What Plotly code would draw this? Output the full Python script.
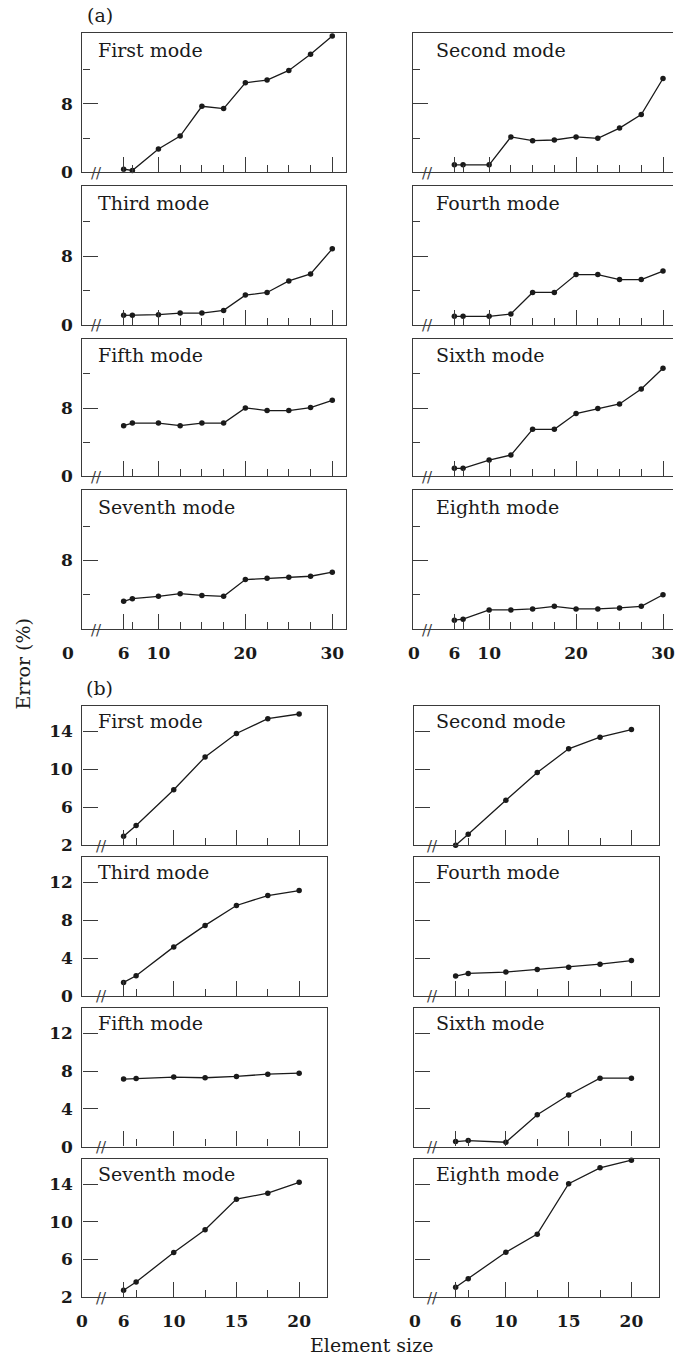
import plotly.graph_objects as go

W, H = 675, 1369

# ---------------- data ----------------
mode_names = ["First mode", "Second mode", "Third mode", "Fourth mode",
              "Fifth mode", "Sixth mode", "Seventh mode", "Eighth mode"]

# (a) element sizes and errors (%)
x_a = [6, 7, 10, 12.5, 15, 17.5, 20, 22.5, 25, 27.5, 30]
a_first = [0.38, 0.23, 2.73, 4.23, 7.69, 7.42, 10.42, 10.73, 11.85, 13.73, 15.85]
a_second = [0.88, 0.88, 0.88, 4.12, 3.69, 3.77, 4.12, 3.96, 5.15, 6.73, 10.92]
a_third = [1.08, 1.08, 1.16, 1.35, 1.35, 1.66, 3.44, 3.75, 5.10, 5.91, 8.84]
a_fourth = [0.97, 0.97, 0.97, 1.24, 3.75, 3.75, 5.83, 5.83, 5.25, 5.25, 6.25]
a_fifth = [5.95, 6.25, 6.25, 5.95, 6.25, 6.25, 8.03, 7.72, 7.72, 8.07, 8.92]
a_sixth = [0.96, 0.96, 1.92, 2.51, 5.52, 5.52, 7.37, 7.95, 8.49, 10.23, 12.66]
a_seventh = [3.23, 3.54, 3.81, 4.12, 3.92, 3.81, 5.77, 5.92, 6.04, 6.15, 6.62]
a_eighth = [1.04, 1.15, 2.23, 2.23, 2.35, 2.65, 2.35, 2.35, 2.46, 2.65, 4.00]

# (b) element sizes and errors (%)
x_b = [6, 7, 10, 12.5, 15, 17.5, 20]
b_first = [2.94, 4.09, 7.84, 11.29, 13.76, 15.32, 15.81]
b_second = [2.00, 3.15, 6.73, 9.65, 12.15, 13.37, 14.17]
b_third = [1.43, 2.13, 5.18, 7.45, 9.55, 10.60, 11.13]
b_fourth = [2.10, 2.38, 2.52, 2.80, 3.04, 3.36, 3.74]
b_fifth = [7.16, 7.23, 7.37, 7.30, 7.44, 7.68, 7.79]
b_sixth = [0.53, 0.63, 0.46, 3.37, 5.47, 7.26, 7.26]
b_seventh = [2.74, 3.61, 6.74, 9.16, 12.42, 13.05, 14.21]
b_eighth = [3.05, 3.96, 6.77, 8.70, 14.07, 15.75, 16.56]

# ticks
a_x_major = [6, 10, 20, 30]
a_x_minor = [7, 12.5, 15, 17.5, 22.5, 25, 27.5]
a_x_labels = ["6", "10", "20", "30"]
a_y_major = [0, 8]
a_y_minor = [4, 12]
b_x_major = [6, 10, 15, 20]
b_x_minor = [7, 12.5, 17.5]
b_x_labels = ["6", "10", "15", "20"]
b_y_ticks_odd = [2, 6, 10, 14]
b_y_ticks_even = [0, 4, 8, 12]

# ---------------- layout geometry (pixels) ----------------
cols_a = [(82.7, 346.7), (414.3, 675.0)]
cols_b = [(82.7, 327.7), (415.7, 661.0)]
rows_a = [(33.7, 173.7), (187.5, 327.0), (341.0, 480.0), (494.0, 633.7)]
rows_b = [(711.0, 851.5), (863.3, 1003.3), (1015.7, 1155.0), (1167.7, 1306.7)]

SERIF = "DejaVu Serif"
INK = "#1a1a1a"
FRAME = "#3a3a3a"


def px_x(p):
    return p / W


def px_y(p):
    return 1 - p / H


fig = go.Figure()
layout = {}
annotations = []

series_a = [a_first, a_second, a_third, a_fourth, a_fifth, a_sixth, a_seventh, a_eighth]
series_b = [b_first, b_second, b_third, b_fourth, b_fifth, b_sixth, b_seventh, b_eighth]

tickfont = dict(family=SERIF, size=17, color=INK, weight="bold")

n = 0
for part in ("a", "b"):
    for i in range(8):
        n += 1
        r, c = divmod(i, 2)
        if part == "a":
            x0, x1 = cols_a[c]
            y0, y1 = rows_a[r]
            xs, ys = x_a, series_a[i]
            xrange = [1.26, 31.54] if c == 0 else [1.25, 31.15]
            yrange = [0, 16.15]
            xmaj, xmin, xlab = a_x_major, a_x_minor, a_x_labels
            ytv = a_y_major
            ytt = ["0", "8"] if r < 3 else ["", "8"]
            ymin = dict(tickmode="array", tickvals=a_y_minor, ticks="inside",
                        ticklen=7, tickwidth=1, tickcolor=FRAME)
            yticklen = 15
            title_dy = 17
        else:
            x0, x1 = cols_b[c]
            y0, y1 = rows_b[r]
            xs, ys = x_b, series_b[i]
            xrange = [2.72, 22.2]
            if r in (0, 3):
                yrange = [2, 16.67]
                ytv = b_y_ticks_odd
            else:
                yrange = [0, 14.67]
                ytv = b_y_ticks_even
            ytt = [str(v) for v in ytv]
            xmaj, xmin, xlab = b_x_major, b_x_minor, b_x_labels
            ymin = None
            yticklen = 15
            title_dy = 15

        sfx = "" if n == 1 else str(n)
        fig.add_trace(go.Scatter(
            x=xs, y=ys, mode="lines+markers", xaxis="x" + sfx, yaxis="y" + sfx,
            line=dict(color=INK, width=1.3), marker=dict(color=INK, size=5.5),
            showlegend=False, cliponaxis=False, hoverinfo="skip"))

        bottom = (r == 3)
        xa = dict(domain=[px_x(x0), px_x(x1)], range=xrange, anchor="y" + sfx,
                  showline=True, linecolor=FRAME, linewidth=1.2, mirror=True,
                  ticks="inside", tickmode="array", tickvals=xmaj, ticktext=xlab,
                  ticklen=15, tickwidth=1, tickcolor=FRAME,
                  minor=dict(tickmode="array", tickvals=xmin, ticks="inside",
                             ticklen=7, tickwidth=1, tickcolor=FRAME),
                  showgrid=False, zeroline=False, showticklabels=bottom,
                  tickfont=tickfont, ticklabelstandoff=8, ticklabeloverflow="allow")
        ya = dict(domain=[px_y(y1), px_y(y0)], range=yrange, anchor="x" + sfx,
                  showline=True, linecolor=FRAME, linewidth=1.2,
                  mirror=not (part == "a" and c == 1),
                  ticks="inside", tickmode="array", tickvals=ytv, ticktext=ytt,
                  ticklen=yticklen, tickwidth=1, tickcolor=FRAME,
                  showgrid=False, zeroline=False, showticklabels=(c == 0),
                  tickfont=tickfont, ticklabelstandoff=5, ticklabeloverflow="allow")
        if ymin is not None:
            ya["minor"] = ymin
        layout["xaxis" + sfx] = xa
        layout["yaxis" + sfx] = ya

        # panel title
        annotations.append(dict(
            text=mode_names[i], xref="paper", yref="paper",
            x=px_x(96.7 if c == 0 else 435.0), y=px_y(y0 + title_dy),
            xanchor="left", yanchor="middle", showarrow=False,
            font=dict(family=SERIF, size=19, color=INK)))
        # axis break mark
        bx = (96.7 if c == 0 else 429.0) if part == "a" else (101.7 if c == 0 else 434.0)
        annotations.append(dict(
            text="//", xref="paper", yref="paper", x=px_x(bx), y=px_y(y1 + 0.5),
            xanchor="center", yanchor="middle", showarrow=False,
            font=dict(family=SERIF, size=15, color=FRAME)))
        # "0" at start of broken x axis on bottom row
        if bottom:
            if part == "a":
                zx = 68.5 if c == 0 else 415.0
            else:
                zx = 82.7 if c == 0 else 416.0
            annotations.append(dict(
                text="0", xref="paper", yref="paper", x=px_x(zx), y=px_y(y1 + 24.5),
                xanchor="center", yanchor="middle", showarrow=False,
                font=tickfont))

annotations += [
    dict(text="(a)", xref="paper", yref="paper", x=px_x(100), y=px_y(15.5),
         xanchor="center", yanchor="middle", showarrow=False,
         font=dict(family=SERIF, size=19, color=INK)),
    dict(text="(b)", xref="paper", yref="paper", x=px_x(100), y=px_y(693),
         xanchor="center", yanchor="middle", showarrow=False,
         font=dict(family=SERIF, size=19, color=INK)),
    dict(text="Error (%)", xref="paper", yref="paper", x=px_x(23.5), y=px_y(669),
         xanchor="center", yanchor="middle", showarrow=False, textangle=-90,
         font=dict(family=SERIF, size=19, color=INK)),
    dict(text="Element size", xref="paper", yref="paper", x=px_x(372.5), y=px_y(1355),
         xanchor="center", yanchor="middle", showarrow=False,
         font=dict(family=SERIF, size=19, color=INK)),
]

layout.update(
    width=W, height=H, margin=dict(l=0, r=0, t=0, b=0),
    paper_bgcolor="white", plot_bgcolor="white",
    annotations=annotations, showlegend=False,
)
fig.update_layout(**layout)
fig.write_html(
    "out.html",
    config={"displayModeBar": False},
    post_script="document.body.style.margin='0px';document.body.style.overflow='hidden';",
)
